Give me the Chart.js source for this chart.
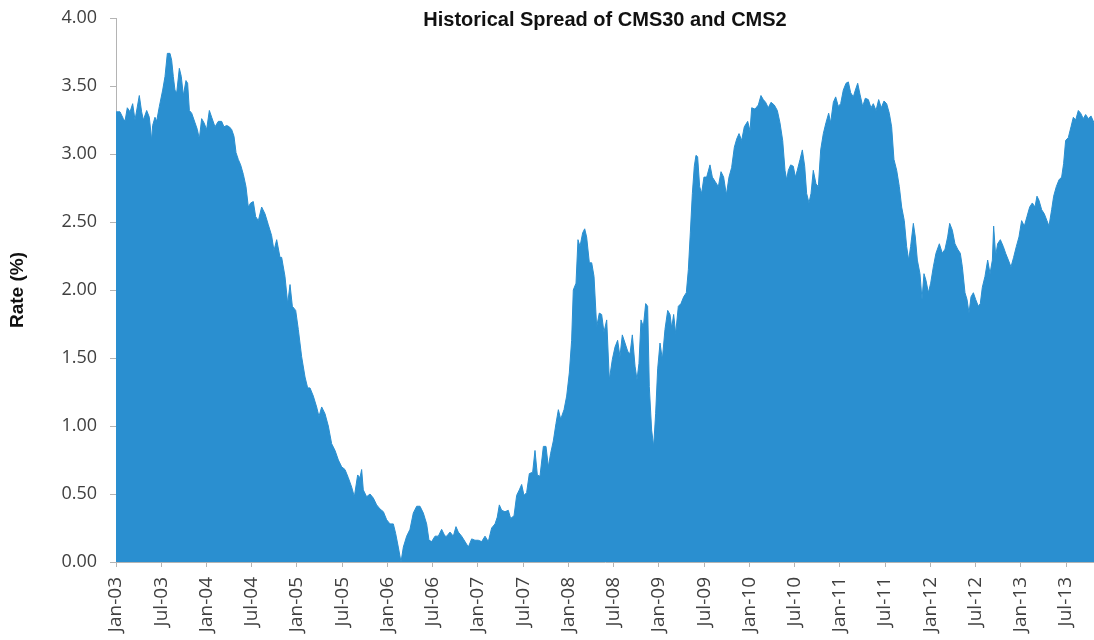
<!DOCTYPE html>
<html>
<head>
<meta charset="utf-8">
<title>Historical Spread of CMS30 and CMS2</title>
<script src="https://cdn.jsdelivr.net/npm/chart.js@4.4.0/dist/chart.umd.min.js"></script>
<style>
  html, body { margin: 0; padding: 0; background: #ffffff; }
  #wrap { width: 1094px; height: 640px; }
</style>
</head>
<body>
<div id="wrap"><canvas id="spreadChart" width="1094" height="640"></canvas></div>
<script>
// x tick labels, one every 6 months starting Jan-03
const tickLabels = [
  "Jan-03", "Jul-03", "Jan-04", "Jul-04", "Jan-05", "Jul-05", "Jan-06", "Jul-06",
  "Jan-07", "Jul-07", "Jan-08", "Jul-08", "Jan-09", "Jul-09", "Jan-10", "Jul-10",
  "Jan-11", "Jul-11", "Jan-12", "Jul-12", "Jan-13", "Jul-13",
];

// months since Jan-03
const months = [
  0, 0.53, 0.97, 1.19, 1.5, 1.86, 2.21, 2.52, 3.09, 3.4,
  3.63, 4.07, 4.42, 4.73, 4.86, 5.17, 5.39, 5.75, 6.19, 6.5,
  6.81, 7.16, 7.38, 7.6, 7.82, 8.05, 8.4, 8.66, 8.93, 9.28,
  9.5, 9.73, 10.04, 10.48, 10.79, 11.05, 11.36, 11.67, 12.02, 12.38,
  12.69, 13.13, 13.57, 14.01, 14.32, 14.68, 15.03, 15.34, 15.65, 15.92,
  16.22, 16.53, 16.89, 17.24, 17.55, 17.86, 18.21, 18.52, 18.88, 19.32,
  19.76, 20.2, 20.64, 20.95, 21.31, 21.75,
  21.97, 22.41, 22.77, 23.08, 23.39, 23.83, 24.18, 24.62, 25.07, 25.42,
  25.73, 26.17, 26.61, 26.92, 27.28, 27.72, 28.16, 28.6, 29.05, 29.49,
  29.93, 30.37, 30.81, 31.26, 31.61, 32.05, 32.36, 32.58, 32.8, 33.24,
  33.69, 34.13, 34.57, 35.01, 35.46, 35.9, 36.34, 36.78, 37.09, 37.44,
  37.8, 38.11, 38.55, 38.99, 39.43, 39.88, 40.32, 40.76, 41.2, 41.51,
  41.87, 42.31, 42.75, 43.19, 43.63,
  43.86, 44.3, 44.74, 45.09, 45.4, 45.84, 46.29, 46.73, 47.17, 47.61,
  48.05, 48.5, 48.94, 49.38, 49.82, 50.27, 50.57, 50.84, 51.15, 51.59,
  52.03, 52.34, 52.79, 53.14, 53.49, 53.8, 54.11, 54.46, 54.82, 55.26,
  55.57, 55.88, 56.23, 56.68, 57.03, 57.34, 57.65, 58, 58.36, 58.67,
  58.98, 59.42, 59.77, 60.12, 60.43, 60.65, 61.01, 61.27, 61.54, 61.89,
  62.16, 62.42, 62.78, 63.09, 63.4, 63.75, 64.1, 64.41, 64.72, 65.08,
  65.43,
  65.83, 66.18, 66.53, 66.84, 67.15, 67.51, 67.86, 68.17, 68.48, 68.84,
  69.1, 69.36, 69.63, 69.94, 70.25, 70.51, 70.73, 71.04, 71.31, 71.57,
  71.84, 72.15, 72.46, 72.81, 73.17, 73.48, 73.7, 73.96, 74.23, 74.58,
  74.93, 75.29, 75.64, 75.91, 76.17, 76.44, 76.7, 76.92, 77.14, 77.41,
  77.67, 77.98, 78.34, 78.78, 79.09, 79.44, 79.89, 80.24, 80.59, 80.95,
  81.3, 81.65, 82.01, 82.32, 82.63, 82.98, 83.33, 83.78, 84.09, 84.31,
  84.75, 85.19, 85.54, 85.85, 86.16, 86.51, 86.87, 87.31,
  87.71, 88.06, 88.42, 88.73, 88.95, 89.17, 89.48, 89.83, 90.1, 90.36,
  90.72, 91.03, 91.34, 91.6, 91.91, 92.18, 92.48, 92.84, 93.15, 93.46,
  93.81, 94.16, 94.52, 94.78, 95.14, 95.45, 95.8, 96.11, 96.46, 96.82,
  97.13, 97.44, 97.79, 98.06, 98.37, 98.67, 99.03, 99.38, 99.78, 100.13,
  100.44, 100.8, 101.15, 101.5, 101.86, 102.21, 102.56, 102.87, 103.18, 103.54,
  103.89, 104.2, 104.55, 104.86, 105.13, 105.39, 105.75, 106.01, 106.28, 106.63,
  106.9, 107.16, 107.43, 107.74, 108.05, 108.4, 108.75, 109.2,
  109.59, 109.95, 110.3, 110.57, 110.92, 111.27, 111.63, 111.98, 112.25, 112.6,
  112.87, 113.13, 113.4, 113.71, 114.02, 114.37, 114.63, 114.9, 115.25, 115.61,
  115.92, 116.23, 116.4, 116.67, 116.93, 117.29, 117.68, 117.99, 118.35, 118.7,
  119.05, 119.41, 119.76, 120.11, 120.47, 120.82, 121.18, 121.53, 121.88, 122.15,
  122.41, 122.77, 123.12, 123.47, 123.74, 124.09, 124.36, 124.71, 125.07, 125.42,
  125.68, 125.95, 126.3, 126.66, 126.97, 127.28, 127.63, 127.94, 128.29, 128.6,
  128.96, 129.31, 129.71,
];

// CMS30 - CMS2 spread in %, same order as months
const spread = [
  3.31, 3.31, 3.26, 3.24, 3.34, 3.31, 3.37, 3.25, 3.43, 3.31,
  3.25, 3.32, 3.27, 3.1, 3.21, 3.27, 3.24, 3.35, 3.47, 3.57,
  3.74, 3.74, 3.69, 3.57, 3.47, 3.45, 3.63, 3.57, 3.43, 3.54,
  3.52, 3.32, 3.3, 3.23, 3.18, 3.11, 3.26, 3.23, 3.18, 3.32,
  3.27, 3.2, 3.24, 3.24, 3.2, 3.21, 3.2, 3.18, 3.13, 3.01,
  2.96, 2.92, 2.85, 2.76, 2.61, 2.64, 2.65, 2.54, 2.51, 2.61,
  2.56, 2.48, 2.4, 2.29, 2.37, 2.24,
  2.24, 2.1, 1.9, 2.04, 1.88, 1.85, 1.71, 1.51, 1.36, 1.28,
  1.28, 1.22, 1.14, 1.07, 1.14, 1.09, 1.0, 0.87, 0.82, 0.75,
  0.7, 0.68, 0.62, 0.55, 0.48, 0.64, 0.62, 0.68, 0.53, 0.48,
  0.5, 0.47, 0.42, 0.39, 0.37, 0.31, 0.28, 0.28, 0.21, 0.11,
  0.0, 0.11, 0.19, 0.24, 0.36, 0.41, 0.41, 0.36, 0.28, 0.16,
  0.15, 0.19, 0.19, 0.24, 0.19,
  0.19, 0.22, 0.19, 0.26, 0.22, 0.19, 0.15, 0.11, 0.17, 0.16,
  0.16, 0.15, 0.19, 0.15, 0.25, 0.28, 0.33, 0.42, 0.38, 0.37,
  0.38, 0.32, 0.34, 0.49, 0.53, 0.57, 0.49, 0.51, 0.65, 0.66,
  0.82, 0.64, 0.63, 0.85, 0.85, 0.7, 0.8, 0.89, 1.02, 1.12,
  1.05, 1.12, 1.22, 1.39, 1.63, 2.0, 2.05, 2.37, 2.32, 2.42,
  2.45, 2.39, 2.2, 2.2, 2.1, 1.73, 1.83, 1.82, 1.69, 1.78,
  1.34,
  1.49, 1.58, 1.63, 1.51, 1.67, 1.61, 1.55, 1.53, 1.67, 1.44,
  1.34, 1.46, 1.78, 1.73, 1.9, 1.88, 1.29, 0.97, 0.85, 1.09,
  1.42, 1.61, 1.49, 1.71, 1.85, 1.82, 1.72, 1.82, 1.68, 1.88,
  1.9, 1.95, 1.98, 2.15, 2.42, 2.71, 2.91, 2.99, 2.98, 2.76,
  2.71, 2.83, 2.83, 2.92, 2.83, 2.8, 2.76, 2.87, 2.83, 2.7,
  2.83, 2.9, 3.05, 3.11, 3.15, 3.1, 3.2, 3.24, 3.17, 3.34,
  3.33, 3.36, 3.43, 3.4, 3.38, 3.34, 3.38, 3.36,
  3.32, 3.23, 3.1, 2.88, 2.81, 2.88, 2.92, 2.91, 2.83, 2.88,
  2.96, 3.03, 2.91, 2.71, 2.64, 2.71, 2.88, 2.78, 2.76, 3.03,
  3.15, 3.23, 3.3, 3.23, 3.38, 3.42, 3.35, 3.37, 3.47, 3.52,
  3.53, 3.45, 3.42, 3.47, 3.52, 3.44, 3.35, 3.41, 3.4, 3.34,
  3.37, 3.32, 3.4, 3.34, 3.39, 3.37, 3.3, 3.2, 2.96, 2.88,
  2.76, 2.61, 2.51, 2.32, 2.22, 2.32, 2.49, 2.39, 2.22, 2.12,
  1.93, 2.12, 2.07, 1.98, 2.05, 2.17, 2.27, 2.34,
  2.27, 2.3, 2.39, 2.49, 2.44, 2.34, 2.3, 2.27, 2.17, 1.98,
  1.93, 1.83, 1.95, 1.98, 1.93, 1.88, 1.9, 2.02, 2.1, 2.22,
  2.12, 2.22, 2.47, 2.25, 2.34, 2.37, 2.32, 2.27, 2.22, 2.17,
  2.24, 2.32, 2.39, 2.51, 2.47, 2.54, 2.61, 2.64, 2.61, 2.69,
  2.66, 2.59, 2.56, 2.51, 2.47, 2.59, 2.69, 2.76, 2.81, 2.83,
  2.93, 3.1, 3.12, 3.2, 3.27, 3.25, 3.32, 3.3, 3.26, 3.29,
  3.26, 3.28, 3.23,
];

const areaBlue = "#2a8fd0";
const axisGray = "#b4b4b4";
const labelColor = "#404040";
const yTickFont = { family: "'Open Sans', 'Noto Sans', sans-serif", size: 18 };
const xTickFont = { family: "'Open Sans', 'Noto Sans', sans-serif", size: 19 };
const titleFont = { family: "'Liberation Sans', Arial, sans-serif", size: 20, weight: "bold" };
const axisTitleFont = { family: "'Liberation Sans', Arial, sans-serif", size: 19, weight: "bold" };

new Chart(document.getElementById("spreadChart"), {
  type: "line",
  data: {
    datasets: [
      {
        label: "CMS30 - CMS2",
        data: months.map((m, i) => ({ x: m, y: spread[i] })),
        fill: "origin",
        backgroundColor: areaBlue,
        borderColor: areaBlue,
        borderWidth: 1,
        pointRadius: 0,
        tension: 0,
      },
    ],
  },
  options: {
    responsive: false,
    animation: false,
    layout: { padding: 0 },
    plugins: {
      legend: { display: false },
      tooltip: { enabled: false },
      title: {
        display: true,
        text: "Historical Spread of CMS30 and CMS2",
        fullSize: false,
        color: "#111111",
        font: titleFont,
        // title sits over the top of the plot, like the original
        padding: { top: 8, bottom: -14 },
      },
    },
    scales: {
      x: {
        type: "linear",
        min: 0,
        max: 129.71,
        border: { color: axisGray, width: 1 },
        grid: { drawOnChartArea: false, tickLength: 5, color: axisGray },
        afterBuildTicks: (scale) => {
          scale.ticks = tickLabels.map((_, i) => ({ value: i * 6 }));
        },
        ticks: {
          autoSkip: false,
          minRotation: 90,
          maxRotation: 90,
          padding: 10,
          color: labelColor,
          font: xTickFont,
          callback: (value, index) => tickLabels[index],
        },
        afterFit: (scale) => {
          scale.height = 78;
          scale.paddingLeft = 0;
          scale.paddingRight = 0;
        },
      },
      y: {
        min: 0,
        max: 4,
        border: { color: axisGray, width: 1 },
        grid: { drawOnChartArea: false, tickLength: 6, color: axisGray },
        ticks: {
          stepSize: 0.5,
          padding: 13,
          color: labelColor,
          font: yTickFont,
          callback: (value) => value.toFixed(2),
        },
        title: {
          display: true,
          text: "Rate (%)",
          color: "#111111",
          font: axisTitleFont,
          padding: { top: 6, bottom: 0 },
        },
        afterFit: (scale) => {
          scale.width = 116;
          scale.paddingTop = 0;
          scale.paddingBottom = 0;
        },
      },
    },
  },
});
</script>
</body>
</html>
